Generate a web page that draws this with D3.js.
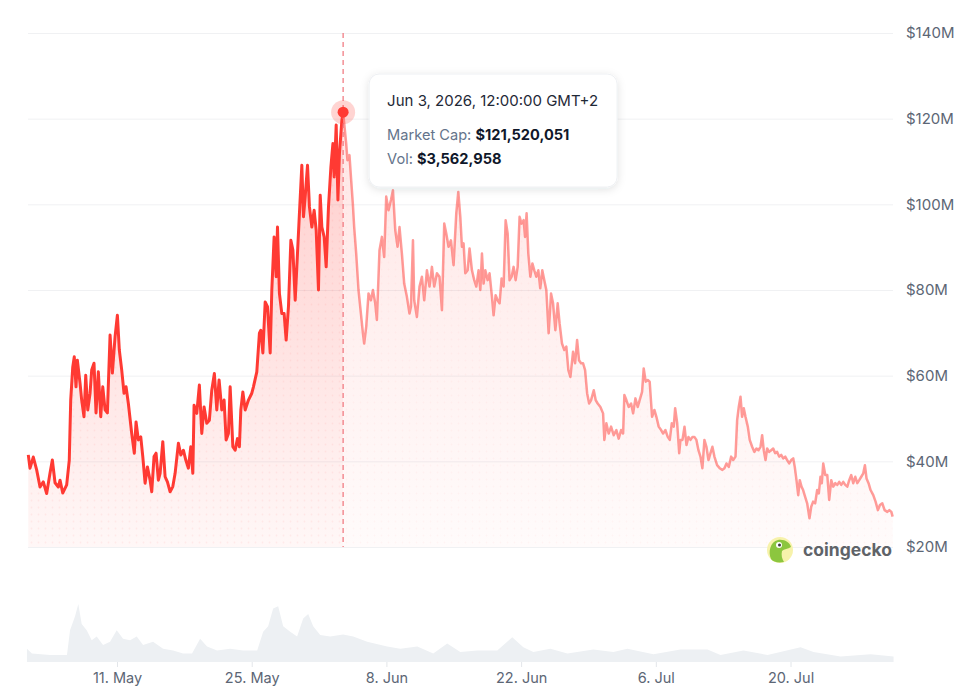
<!DOCTYPE html>
<html>
<head lang="en">
    <meta charset="UTF-8">
    <title>Market Cap</title>
    <style>
        body { margin: 0; background: #fff; }
        svg { display: block; font-family: Inter, "Noto Sans", sans-serif; }
    </style>
</head>
<body>
<svg width="964" height="690"></svg>
<script src="https://cdn.jsdelivr.net/npm/d3@7/dist/d3.min.js"></script>
<script>
    // day offsets are counted from 1 May 2026 00:00
    var START = Date.UTC(2026, 4, 1);

    // [day, market cap in $M]
    var capPoints = [
        [0.78,41.5],[0.96,38.4],[1.30,41.0],[1.65,38.0],[2.00,34.0],[2.34,35.2],[2.69,32.5],[3.04,37.3],[3.28,40.3],[3.56,35.0],
        [3.90,34.0],[4.08,35.6],[4.36,32.6],[4.77,34.5],[5.04,40.3],[5.19,54.3],[5.40,62.0],[5.56,64.4],[5.74,57.4],[5.88,63.6],
        [6.16,58.2],[6.33,54.3],[6.57,50.4],[6.75,60.1],[6.96,52.0],[7.20,55.9],[7.37,61.3],[7.61,62.9],[7.82,51.3],[8.06,60.9],
        [8.31,50.4],[8.52,57.4],[8.76,52.0],[9.00,51.3],[9.28,69.5],[9.52,60.6],[9.80,69.1],[10.04,74.1],[10.24,66.0],[10.49,61.3],
        [10.73,55.9],[10.94,57.4],[11.18,53.5],[11.53,46.5],[11.80,41.9],[11.98,49.2],[12.22,45.0],[12.47,45.7],[12.68,41.1],[12.92,34.9],
        [13.16,38.7],[13.44,35.6],[13.61,32.9],[13.85,41.1],[14.06,41.9],[14.30,35.6],[14.48,37.2],[14.76,44.6],[15.00,36.4],[15.24,35.2],
        [15.52,32.9],[15.80,34.1],[16.04,37.2],[16.38,44.2],[16.63,41.5],[16.90,42.6],[17.15,40.3],[17.42,38.4],[17.67,43.4],[17.88,37.2],
        [18.01,53.1],[18.29,51.2],[18.56,57.8],[18.81,46.5],[19.05,52.7],[19.33,48.9],[19.60,49.6],[19.85,56.6],[20.12,60.5],[20.37,52.0],
        [20.61,59.0],[20.89,52.0],[21.13,54.3],[21.34,45.0],[21.58,46.5],[21.76,57.4],[22.04,43.4],[22.28,42.6],[22.52,45.3],[22.72,43.4],
        [22.87,52.0],[23.08,56.2],[23.32,52.0],[23.66,54.3],[24.01,55.9],[24.18,57.4],[24.53,60.9],[24.80,69.9],[24.95,70.6],[25.16,65.3],
        [25.40,77.2],[25.64,76.1],[25.92,65.3],[26.09,80.0],[26.33,92.4],[26.54,83.1],[26.68,94.7],[26.88,79.2],[27.13,74.5],[27.37,74.5],
        [27.58,68.3],[27.82,76.1],[28.07,91.6],[28.28,89.3],[28.52,77.6],[28.69,85.4],[28.96,97.9],[29.21,109.1],[29.38,97.1],[29.56,101.8],
        [29.80,109.1],[30.00,99.4],[30.25,94.7],[30.49,98.6],[30.70,94.0],[30.94,80.0],[31.12,102.1],[31.29,94.7],[31.53,92.4],[31.74,85.4],
        [31.98,99.4],[32.23,108.7],[32.44,114.2],[32.57,106.4],[32.78,118.5],[32.96,101.0],[33.12,111.9],[33.37,119.6],[33.50,121.52],[33.82,114.2],
        [33.95,110.3],[34.16,111.5],[34.34,105.6],[34.51,100.2],[34.65,94.7],[34.86,88.5],[35.10,80.0],[35.35,74.5],[35.56,69.9],[35.69,67.5],
        [35.90,71.4],[36.14,79.2],[36.39,77.6],[36.60,80.0],[36.84,76.9],[37.01,73.0],[37.28,89.3],[37.53,92.4],[37.77,87.7],[37.98,101.8],
        [38.22,98.6],[38.47,101.0],[38.68,103.3],[38.92,94.0],[39.16,90.1],[39.36,94.7],[39.61,88.5],[39.85,81.5],[40.13,78.4],[40.40,74.5],
        [40.55,76.1],[40.76,91.6],[40.89,77.6],[41.17,73.7],[41.44,80.8],[41.69,83.1],[41.93,77.6],[42.21,84.6],[42.48,80.8],[42.73,85.4],
        [42.97,80.8],[43.25,83.9],[43.52,83.1],[43.77,75.3],[44.01,95.5],[44.22,93.2],[44.46,90.1],[44.71,91.6],[44.98,85.8],[45.26,97.9],
        [45.47,102.9],[45.68,97.1],[45.85,90.1],[46.02,90.9],[46.20,83.9],[46.44,84.6],[46.64,89.7],[46.89,84.6],[47.13,82.3],[47.34,80.8],
        [47.58,84.6],[47.76,80.0],[47.93,88.5],[48.10,81.5],[48.28,84.6],[48.52,82.3],[48.72,83.9],[48.97,78.4],[49.14,74.1],[49.35,78.8],
        [49.56,77.6],[49.76,76.9],[49.97,82.7],[50.18,80.8],[50.39,96.3],[50.60,93.2],[50.80,82.3],[51.01,83.1],[51.22,85.4],[51.43,82.3],
        [51.64,85.4],[51.84,97.1],[52.05,95.5],[52.26,96.3],[52.41,92.4],[52.57,97.9],[52.75,88.5],[52.96,83.1],[53.17,86.2],[53.37,84.6],
        [53.58,83.1],[53.79,84.6],[53.99,80.4],[54.20,84.6],[54.41,82.3],[54.62,80.0],[54.86,69.9],[55.11,79.2],[55.32,76.9],[55.56,70.6],
        [55.80,76.9],[56.00,72.2],[56.25,67.5],[56.49,66.0],[56.70,66.8],[56.91,61.3],[57.12,59.7],[57.40,65.6],[57.61,62.9],[57.82,68.3],
        [58.02,63.6],[58.23,62.9],[58.44,62.9],[58.65,61.3],[58.86,55.9],[59.07,53.5],[59.27,54.3],[59.55,56.6],[59.75,54.3],[59.96,53.5],
        [60.24,52.7],[60.52,51.2],[60.65,45.0],[60.86,48.9],[61.10,46.5],[61.35,48.1],[61.62,46.1],[61.90,47.3],[62.14,45.3],[62.39,47.3],
        [62.60,46.5],[62.73,55.5],[62.94,54.3],[63.18,52.7],[63.43,53.5],[63.64,51.2],[63.88,54.7],[64.12,52.7],[64.32,54.3],[64.57,56.2],
        [64.74,61.7],[64.95,58.6],[65.16,59.0],[65.36,58.6],[65.61,50.4],[65.85,52.0],[66.06,50.4],[66.30,48.1],[66.55,47.3],[66.76,46.5],
        [67.00,47.3],[67.24,45.7],[67.45,45.0],[67.66,48.9],[67.86,48.1],[68.01,52.4],[68.22,48.9],[68.43,41.9],[68.56,45.0],[68.77,45.0],
        [68.98,48.1],[69.19,43.8],[69.39,45.7],[69.60,45.0],[69.81,45.7],[70.01,45.7],[70.22,45.0],[70.43,42.6],[70.64,41.1],[70.84,38.4],
        [71.05,45.0],[71.26,43.4],[71.47,40.3],[71.68,41.9],[71.88,43.4],[72.09,41.1],[72.37,39.1],[72.64,38.4],[72.92,38.0],[73.13,38.4],
        [73.34,39.5],[73.58,38.7],[73.83,41.1],[74.04,40.3],[74.28,41.1],[74.45,49.6],[74.62,52.7],[74.80,55.1],[74.97,50.4],[75.14,52.4],
        [75.32,50.4],[75.56,48.1],[75.76,45.0],[76.01,43.4],[76.25,42.2],[76.46,43.0],[76.67,42.6],[76.88,43.4],[77.05,46.1],[77.22,42.6],
        [77.40,40.3],[77.57,43.0],[77.78,42.2],[77.99,42.6],[78.20,43.0],[78.41,41.9],[78.61,42.2],[78.82,41.1],[79.03,41.5],[79.24,40.7],
        [79.45,41.1],[79.65,40.3],[79.86,39.5],[80.07,40.3],[80.28,40.7],[80.44,38.7],[80.62,35.6],[80.80,32.1],[80.96,35.6],[81.14,34.1],
        [81.31,33.3],[81.52,31.7],[81.73,30.2],[81.97,26.7],[82.15,29.4],[82.35,30.6],[82.56,30.2],[82.77,33.3],[82.94,32.5],[83.11,36.4],
        [83.25,34.9],[83.40,39.5],[83.61,36.8],[83.82,36.8],[84.02,31.0],[84.23,35.6],[84.44,34.1],[84.65,34.9],[84.86,34.5],[85.06,35.2],
        [85.27,34.5],[85.48,35.2],[85.69,34.5],[85.90,34.1],[86.10,35.6],[86.31,36.8],[86.52,34.9],[86.73,36.4],[86.94,34.9],[87.14,35.6],
        [87.35,36.4],[87.56,37.2],[87.73,39.1],[87.90,36.0],[88.11,34.9],[88.32,33.3],[88.60,32.1],[88.84,30.6],[89.08,28.6],[89.29,29.8],
        [89.54,30.2],[89.78,28.6],[90.06,28.2],[90.27,28.6],[90.48,28.2],[90.61,27.1]
    ];

    // [day, volume in $M]
    var volPoints = [
        [0.64,1.7],[1.16,1.1],[3.04,0.9],[4.80,0.9],[5.12,4.1],[5.64,5.9],[5.98,7.5],[6.33,4.9],[6.85,4.1],[7.37,2.8],
        [7.89,3.3],[8.55,2.2],[9.28,2.6],[9.97,4.1],[10.63,3.0],[11.36,2.8],[12.05,3.3],[12.71,2.2],[13.75,2.6],[14.79,1.7],
        [15.83,1.5],[16.87,1.1],[17.80,1.1],[18.64,3.0],[19.36,2.0],[20.40,1.5],[21.76,1.7],[23.11,1.5],[24.57,1.5],[25.19,3.9],
        [25.71,4.6],[26.23,6.9],[26.75,7.2],[27.27,4.6],[28.00,3.9],[28.72,3.3],[29.35,5.6],[29.87,6.2],[30.39,4.6],[31.12,3.5],
        [32.16,3.3],[33.50,3.56],[34.55,3.3],[36.00,2.6],[38.08,2.0],[39.44,1.7],[41.21,2.0],[42.87,1.1],[44.32,2.4],[45.68,1.3],
        [47.45,1.5],[49.52,1.5],[51.08,3.2],[52.23,1.9],[53.27,1.3],[55.04,1.7],[56.81,1.1],[59.51,1.6],[61.59,1.3],[63.05,1.7],
        [65.75,1.0],[68.56,1.6],[71.37,1.6],[72.72,0.9],[75.11,1.5],[77.61,0.9],[81.04,1.9],[82.39,1.3],[85.20,0.7],[88.32,1.0],
        [90.71,0.7]
    ];

    var capTicks = [20, 40, 60, 80, 100, 120, 140];
    var dateTicks = ["2026-05-11", "2026-05-25", "2026-06-08", "2026-06-22", "2026-07-06", "2026-07-20"];

    var hoverDay = 33.5;
    var hoverCap = 121.52;
    var hoverTitle = "Jun 3, 2026, 12:00:00 GMT+2";
    var hoverCapText = "$121,520,051";
    var hoverVolText = "$3,562,958";

    var RED = "#ff3a33";

    function toDate(day) { return new Date(START + day * 864e5); }

    var svg = d3.select("svg"),
        LEFT = 28, RIGHT = 893,
        TOP = 33, BASE = 547,
        VOL_BASE = 662, VOL_TOP = 600;

    var xScale = d3.scaleTime()
        .domain([toDate(0.75), toDate(90.65)])
        .range([LEFT, RIGHT]);
    var yScale = d3.scaleLinear()
        .domain([20, 140])
        .range([BASE, TOP]);
    var vScale = d3.scaleLinear()
        .domain([0, 8])
        .range([VOL_BASE, VOL_TOP]);

    var defs = svg.append("defs");

    var grad = defs.append("linearGradient")
        .attr("id", "capFill")
        .attr("gradientUnits", "userSpaceOnUse")
        .attr("x1", 0).attr("y1", TOP).attr("x2", 0).attr("y2", BASE);
    grad.append("stop").attr("offset", "0%").attr("stop-color", RED).attr("stop-opacity", 0.3);
    grad.append("stop").attr("offset", "100%").attr("stop-color", RED).attr("stop-opacity", 0.04);

    var pat = defs.append("pattern")
        .attr("id", "dots")
        .attr("patternUnits", "userSpaceOnUse")
        .attr("width", 7).attr("height", 7);
    pat.append("circle").attr("cx", 3.5).attr("cy", 3.5).attr("r", 0.9)
        .attr("fill", RED).attr("fill-opacity", 0.07);

    var shadow = defs.append("filter").attr("id", "shadow")
        .attr("x", "-20%").attr("y", "-20%").attr("width", "140%").attr("height", "150%");
    shadow.append("feDropShadow").attr("dx", 0).attr("dy", 2).attr("stdDeviation", 4)
        .attr("flood-color", "#1e293b").attr("flood-opacity", 0.12);

    var hoverX = xScale(toDate(hoverDay));
    defs.append("clipPath").attr("id", "leftClip")
        .append("rect").attr("x", 0).attr("y", 0).attr("width", hoverX).attr("height", 690);
    defs.append("clipPath").attr("id", "rightClip")
        .append("rect").attr("x", hoverX).attr("y", 0).attr("width", 964 - hoverX).attr("height", 690);

    // grid lines
    var grid = svg.append("g")
        .attr("transform", "translate(" + LEFT + ",0)")
        .call(d3.axisRight(yScale).tickValues(capTicks).tickSize(RIGHT - LEFT).tickFormat(""));
    grid.select(".domain").remove();
    grid.selectAll("line").attr("stroke", "#f0f1f3");

    // y labels on the right
    var yAxis = svg.append("g")
        .attr("transform", "translate(" + RIGHT + ",0)")
        .call(d3.axisRight(yScale).tickValues(capTicks).tickSize(0).tickPadding(13)
            .tickFormat(function (d) { return "$" + d + "M"; }));
    yAxis.select(".domain").remove();
    yAxis.selectAll("text")
        .attr("fill", "#5c6675")
        .style("font-size", "15px")
        .style("font-family", "Inter, sans-serif");

    // volume
    var volArea = d3.area()
        .x(function (d) { return xScale(toDate(d[0])); })
        .y0(VOL_BASE)
        .y1(function (d) { return vScale(d[1]); });
    svg.append("path")
        .attr("d", volArea(volPoints))
        .attr("fill", "#edf0f3");

    // x axis
    var xAxis = svg.append("g")
        .attr("transform", "translate(0," + VOL_BASE + ")")
        .call(d3.axisBottom(xScale)
            .tickValues(dateTicks.map(function (s) { return new Date(s + "T00:00:00Z"); }))
            .tickSize(5).tickPadding(6)
            .tickFormat(d3.utcFormat("%-d. %b")));
    xAxis.select(".domain").remove();
    xAxis.selectAll("line").attr("stroke", "#e3e6ea");
    xAxis.selectAll("text")
        .attr("fill", "#5c6675")
        .style("font-size", "14.5px")
        .style("font-family", "Inter, sans-serif");

    // market cap area + line
    var capArea = d3.area()
        .x(function (d) { return xScale(toDate(d[0])); })
        .y0(BASE)
        .y1(function (d) { return yScale(d[1]); });
    var capLine = d3.line()
        .x(function (d) { return xScale(toDate(d[0])); })
        .y(function (d) { return yScale(d[1]); });

    [["leftClip", 1, 3], ["rightClip", 0.5, 2.5]].forEach(function (s) {
        var g = svg.append("g").attr("clip-path", "url(#" + s[0] + ")");
        g.append("path").attr("d", capArea(capPoints))
            .attr("fill", "url(#capFill)").attr("opacity", s[1]);
        g.append("path").attr("d", capArea(capPoints))
            .attr("fill", "url(#dots)").attr("opacity", s[1]);
        g.append("path").attr("d", capLine(capPoints))
            .attr("fill", "none")
            .attr("stroke", RED)
            .attr("stroke-opacity", s[1])
            .attr("stroke-width", s[2])
            .attr("stroke-linejoin", "round");
    });

    // hover marker
    svg.append("line")
        .attr("x1", hoverX).attr("x2", hoverX)
        .attr("y1", yScale(140)).attr("y2", yScale(20))
        .attr("stroke", "#f0727a")
        .attr("stroke-width", 1.2)
        .attr("stroke-dasharray", "5,4");
    var hy = yScale(hoverCap);
    svg.append("circle").attr("cx", hoverX).attr("cy", hy).attr("r", 12)
        .attr("fill", RED).attr("fill-opacity", 0.22);
    svg.append("circle").attr("cx", hoverX).attr("cy", hy).attr("r", 5.5)
        .attr("fill", RED);

    // tooltip
    var tip = svg.append("g").attr("transform", "translate(" + (hoverX + 26) + ",74)");
    tip.append("rect")
        .attr("width", 248).attr("height", 113).attr("rx", 10)
        .attr("fill", "#fff")
        .attr("stroke", "#eef0f3")
        .attr("filter", "url(#shadow)");
    tip.append("text").attr("x", 18).attr("y", 32)
        .attr("fill", "#1f2937").style("font-size", "15px")
        .text(hoverTitle);
    var t1 = tip.append("text").attr("x", 18).attr("y", 66).style("font-size", "14.6px");
    t1.append("tspan").attr("fill", "#64748b").text("Market Cap: ");
    t1.append("tspan").attr("fill", "#0f172a").attr("font-weight", 700).text(hoverCapText);
    var t2 = tip.append("text").attr("x", 18).attr("y", 90).style("font-size", "14.6px");
    t2.append("tspan").attr("fill", "#64748b").text("Vol: ");
    t2.append("tspan").attr("fill", "#0f172a").attr("font-weight", 700).text(hoverVolText);

    // coingecko watermark
    var logo = svg.append("g").attr("transform", "translate(780,550)");
    logo.append("circle").attr("r", 13).attr("fill", "#f7f2ab");
    logo.append("path")
        .attr("d", "M-9,9 C-12,2 -10,-8 -2,-10 C5,-11 10,-7 11,-3 C8,-1 4,-1 2,1 C1,5 2,9 4,12 C-2,13 -7,12 -9,9 Z")
        .attr("fill", "#8cc63f");
    logo.append("circle").attr("cx", -1).attr("cy", -5).attr("r", 3).attr("fill", "#fff");
    logo.append("circle").attr("cx", -0.5).attr("cy", -5).attr("r", 1.5).attr("fill", "#3b3b3b");
    svg.append("text")
        .attr("x", 803).attr("y", 556)
        .attr("fill", "#5f6368")
        .attr("font-weight", 700)
        .style("font-size", "17.5px")
        .text("coingecko");
</script>
</body>
</html>
